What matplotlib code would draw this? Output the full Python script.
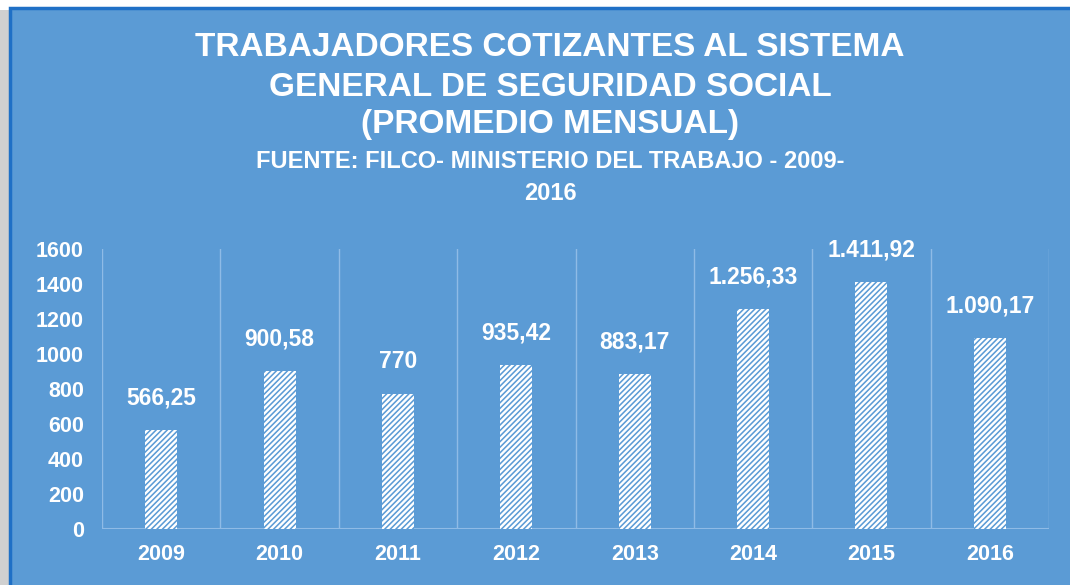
import matplotlib
matplotlib.use('Agg')
import matplotlib.pyplot as plt
from matplotlib.patches import Rectangle

# Datos del gráfico
anios = ['2009', '2010', '2011', '2012', '2013', '2014', '2015', '2016']
cotizantes = [566.25, 900.58, 770, 935.42, 883.17, 1256.33, 1411.92, 1090.17]
etiquetas = ['566,25', '900,58', '770', '935,42', '883,17', '1.256,33', '1.411,92', '1.090,17']
ticks_y = [0, 200, 400, 600, 800, 1000, 1200, 1400, 1600]

titulo = ['TRABAJADORES COTIZANTES AL SISTEMA',
          'GENERAL DE SEGURIDAD SOCIAL',
          '(PROMEDIO MENSUAL)']
subtitulo = ['FUENTE: FILCO- MINISTERIO DEL TRABAJO - 2009-', '2016']

azul = '#5b9bd5'
borde = '#1f70c6'
linea = '#8fbbe6'

plt.rcParams['font.family'] = ['Liberation Sans', 'DejaVu Sans']
plt.rcParams['hatch.linewidth'] = 1.7

W, H = 1070, 585
fig = plt.figure(figsize=(W / 100, H / 100), dpi=100)
fig.patch.set_facecolor('white')

# sombra y panel
fig.patches.append(Rectangle((0, 0), 12 / W, 1 - 10 / H, transform=fig.transFigure,
                             facecolor='#d0d0d0', edgecolor='none', zorder=-2))
fig.patches.append(Rectangle((10 / W, -0.01), 1.02 - 10 / W, 1 - 8 / H + 0.01,
                             transform=fig.transFigure, facecolor=azul,
                             edgecolor=borde, linewidth=2.5, zorder=-1))

ax = fig.add_axes([102 / W, (H - 529) / H, (1049 - 102) / W, (529 - 249) / H])
ax.set_facecolor('none')
ax.set_zorder(2)

x = range(len(anios))
ax.bar(x, cotizantes, width=0.27, color=azul, edgecolor='white', hatch='//////',
       linewidth=0, zorder=3)

for xi, v, t in zip(x, cotizantes, etiquetas):
    ax.annotate(t, (xi, v), xytext=(0, 15), textcoords='offset points',
                ha='center', va='bottom', color='white', fontsize=16.5, fontweight='bold')

ax.set_xlim(-0.5, len(anios) - 0.5)
ax.set_ylim(0, 1600)
ax.set_yticks(ticks_y)
ax.set_xticks(list(x))
ax.set_xticklabels(anios)
for b in [i - 0.5 for i in range(len(anios) + 1)]:
    ax.axvline(b, color=linea, linewidth=1, zorder=1)
ax.axhline(0, color=linea, linewidth=1.5, zorder=2)
for s in ax.spines.values():
    s.set_visible(False)
ax.tick_params(length=0, colors='white', labelsize=15.5)
ax.tick_params(axis='y', pad=13)
ax.tick_params(axis='x', pad=11)
for lb in ax.get_xticklabels() + ax.get_yticklabels():
    lb.set_fontweight('bold')

for yy, t in zip([47, 88, 125], titulo):
    fig.text(550 / W, 1 - yy / H, t, ha='center', va='center', color='white',
             fontsize=24, fontweight='bold')
for yy, t in zip([161, 194], subtitulo):
    fig.text(550 / W, 1 - yy / H, t, ha='center', va='center', color='white',
             fontsize=17, fontweight='bold')

fig.savefig('out.png', dpi=100, facecolor=fig.get_facecolor())
